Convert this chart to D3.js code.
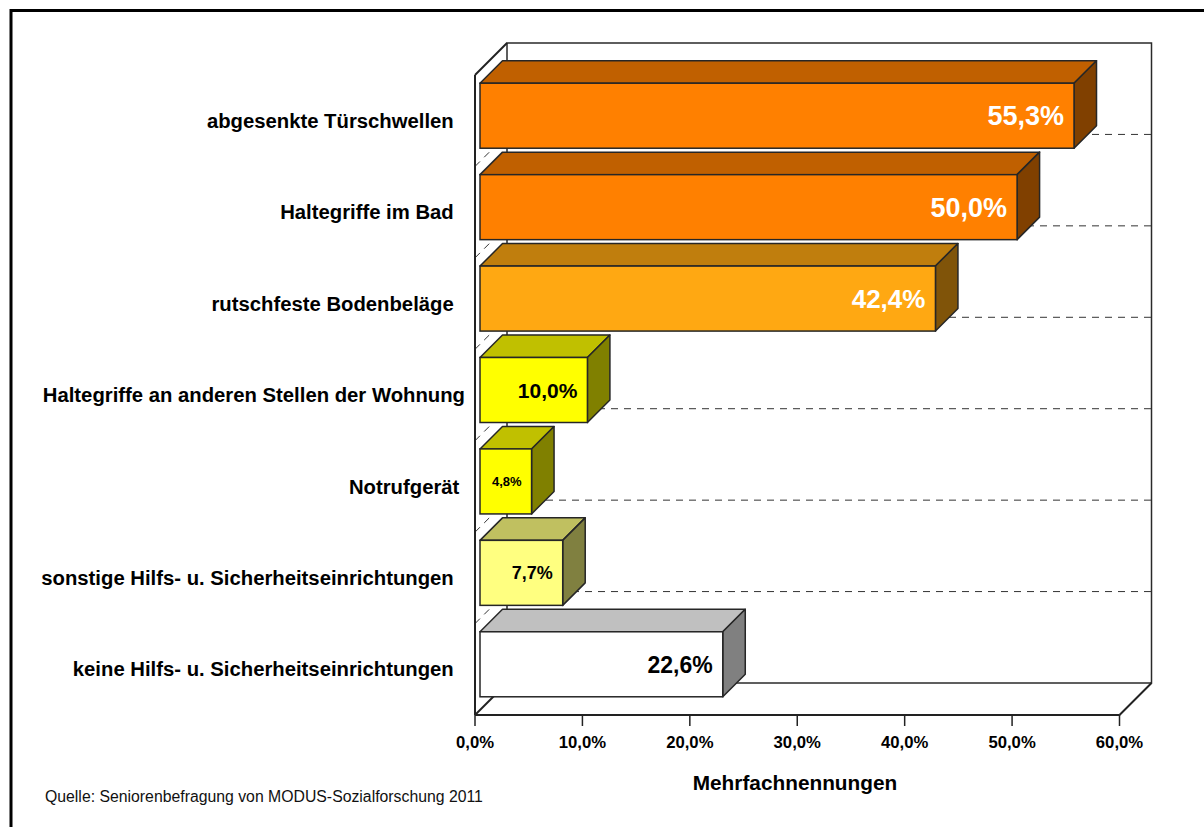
<!DOCTYPE html>
<html>
<head>
<meta charset="utf-8">
<script src="https://cdn.jsdelivr.net/npm/d3@7"></script>
<style>
    body { margin: 0; background: #fff; }
    text { font-family: Arial, "Liberation Sans", sans-serif; }
</style>
</head>
<body>
<div class="bar3d-chart"></div>
<script>
// categories as they appear from top to bottom (trailing blanks like in the source sheet)
const categories = [
    "abgesenkte Türschwellen  ",
    "Haltegriffe im Bad  ",
    "rutschfeste Bodenbeläge  ",
    "Haltegriffe an anderen Stellen der Wohnung",
    "Notrufgerät ",
    "sonstige Hilfs- u. Sicherheitseinrichtungen  ",
    "keine Hilfs- u. Sicherheitseinrichtungen  "
];
const percentValues = [55.3, 50.0, 42.4, 10.0, 4.8, 7.7, 22.6];
const valueLabels = ["55,3%", "50,0%", "42,4%", "10,0%", "4,8%", "7,7%", "22,6%"];
const tickValues = [0, 10, 20, 30, 40, 50, 60];
const tickLabels = ["0,0%", "10,0%", "20,0%", "30,0%", "40,0%", "50,0%", "60,0%"];
const axisTitle = "Mehrfachnennungen";
const sourceNote = "Quelle: Seniorenbefragung von MODUS-Sozialforschung 2011";

// face colours for every bar: front, top, side
const frontColors = ["#ff8000", "#ff8000", "#ffa812", "#ffff00", "#ffff00", "#ffff80", "#ffffff"];
const topColors = ["#c06000", "#c06000", "#c07e0d", "#c0c000", "#c0c000", "#c0c060", "#c0c0c0"];
const sideColors = ["#804000", "#804000", "#805409", "#808000", "#808000", "#808040", "#808080"];
const labelColors = ["#fff", "#fff", "#fff", "#000", "#000", "#000", "#000"];
const labelSizes = [27, 27, 26, 21, 13, 18, 23];

const width = 1204;
const height = 827;
const plot = {left: 475, right: 1119.5, top: 75, bottom: 715};
const depth = 32;       // wall depth (dx = depth, dy = -depth)
const barFront = 5;     // bar front plane inside the depth
const barBack = 27.5;   // bar back plane

const svg = d3.select(".bar3d-chart")
    .append("svg")
    .attr("width", width)
    .attr("height", height);

// outer frame (only top and left are visible in the picture)
svg.append("path")
    .attr("d", `M11,${height} L11,10.5 L${width},10.5`)
    .attr("fill", "none")
    .attr("stroke", "#000")
    .attr("stroke-width", 3);

const xScale = d3.scaleLinear()
    .domain([0, 60])
    .range([plot.left, plot.right]);

const yScale = d3.scaleBand()
    .domain(categories)
    .range([plot.top, plot.bottom])
    .paddingInner(0.289)
    .paddingOuter(0.1445);

const step = yScale.step();
const bw = yScale.bandwidth();

// back wall
svg.append("rect")
    .attr("x", plot.left + depth)
    .attr("y", plot.top - depth)
    .attr("width", plot.right - plot.left)
    .attr("height", plot.bottom - plot.top)
    .attr("fill", "#fff")
    .attr("stroke", "#2a2a2a")
    .attr("stroke-width", 1.5);

// category gridlines on the back wall and the side wall
const boundaries = d3.range(1, categories.length).map(k => plot.top + k * step);
svg.selectAll(".grid-back")
    .data(boundaries)
    .enter()
    .append("line")
    .attr("class", "grid-back")
    .attr("x1", plot.left + depth)
    .attr("x2", plot.right + depth)
    .attr("y1", d => d - depth)
    .attr("y2", d => d - depth)
    .attr("stroke", "#333")
    .attr("stroke-dasharray", "7,6");

svg.selectAll(".grid-side")
    .data(boundaries)
    .enter()
    .append("line")
    .attr("class", "grid-side")
    .attr("x1", plot.left)
    .attr("y1", d => d)
    .attr("x2", plot.left + depth)
    .attr("y2", d => d - depth)
    .attr("stroke", "#333")
    .attr("stroke-dasharray", "7,6");

// floor and side wall edges
const edges = [
    [[plot.left, plot.bottom], [plot.right, plot.bottom]],
    [[plot.right, plot.bottom], [plot.right + depth, plot.bottom - depth]],
    [[plot.left, plot.bottom], [plot.left + depth, plot.bottom - depth]],
    [[plot.left, plot.top], [plot.left, plot.bottom]],
    [[plot.left, plot.top], [plot.left + depth, plot.top - depth]]
];
svg.selectAll(".edge")
    .data(edges)
    .enter()
    .append("path")
    .attr("class", "edge")
    .attr("d", d => d3.line()(d))
    .attr("fill", "none")
    .attr("stroke", "#222")
    .attr("stroke-width", 2);

// x axis ticks + labels on the front floor edge
svg.selectAll(".tick-mark")
    .data(tickValues)
    .enter()
    .append("line")
    .attr("class", "tick-mark")
    .attr("x1", d => xScale(d))
    .attr("x2", d => xScale(d))
    .attr("y1", plot.bottom)
    .attr("y2", plot.bottom + 11)
    .attr("stroke", "#222")
    .attr("stroke-width", 1.5);

svg.selectAll(".tick-label")
    .data(tickValues)
    .enter()
    .append("text")
    .attr("class", "tick-label")
    .attr("x", d => xScale(d))
    .attr("y", 748)
    .attr("text-anchor", "middle")
    .style("font-size", "16.7px")
    .style("font-weight", "bold")
    .text((d, i) => tickLabels[i]);

svg.append("text")
    .attr("x", 795)
    .attr("y", 790)
    .attr("text-anchor", "middle")
    .style("font-size", "20.8px")
    .style("font-weight", "bold")
    .text(axisTitle);

// category labels
svg.selectAll(".cat-label")
    .data(categories)
    .enter()
    .append("text")
    .attr("class", "cat-label")
    .attr("x", 465)
    .attr("y", d => yScale(d) + bw / 2)
    .attr("dy", "0.35em")
    .attr("text-anchor", "end")
    .style("white-space", "pre")
    .style("font-size", "20.3px")
    .style("font-weight", "bold")
    .text(d => d);

// the 3d bars
const bars = svg.selectAll(".bar3d")
    .data(percentValues)
    .enter()
    .append("g")
    .attr("class", "bar3d");

const x0 = xScale(0);
const faceStroke = "#262626";

bars.append("path")
    .attr("d", (d, i) => {
        const y0 = yScale(categories[i]);
        const x1 = xScale(d);
        return d3.line()([
            [x0 + barFront, y0 - barFront], [x1 + barFront, y0 - barFront],
            [x1 + barBack, y0 - barBack], [x0 + barBack, y0 - barBack]
        ]) + "Z";
    })
    .attr("fill", (d, i) => topColors[i])
    .attr("stroke", faceStroke)
    .attr("stroke-width", 1.5)
    .attr("stroke-linejoin", "round");

bars.append("path")
    .attr("d", (d, i) => {
        const y0 = yScale(categories[i]);
        const x1 = xScale(d);
        return d3.line()([
            [x1 + barFront, y0 - barFront], [x1 + barBack, y0 - barBack],
            [x1 + barBack, y0 - barBack + bw], [x1 + barFront, y0 - barFront + bw]
        ]) + "Z";
    })
    .attr("fill", (d, i) => sideColors[i])
    .attr("stroke", faceStroke)
    .attr("stroke-width", 1.5)
    .attr("stroke-linejoin", "round");

bars.append("rect")
    .attr("x", x0 + barFront)
    .attr("y", (d, i) => yScale(categories[i]) - barFront)
    .attr("width", d => xScale(d) - x0)
    .attr("height", bw)
    .attr("fill", (d, i) => frontColors[i])
    .attr("stroke", faceStroke)
    .attr("stroke-width", 1.5);

// value labels inside the front faces
bars.append("text")
    .attr("x", d => xScale(d) + barFront - 10)
    .attr("y", (d, i) => yScale(categories[i]) - barFront + bw / 2)
    .attr("dy", "0.36em")
    .attr("text-anchor", "end")
    .style("font-weight", "bold")
    .style("font-size", (d, i) => labelSizes[i] + "px")
    .attr("fill", (d, i) => labelColors[i])
    .text((d, i) => valueLabels[i]);

// source note
svg.append("text")
    .attr("x", 45)
    .attr("y", 802)
    .style("font-size", "15.8px")
    .attr("fill", "#111")
    .text(sourceNote);
</script>
</body>
</html>
